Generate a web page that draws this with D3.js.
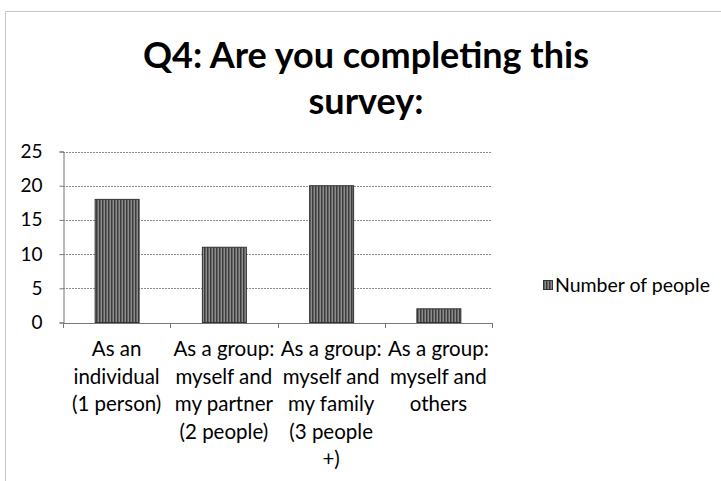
<!DOCTYPE html>
<html>
<head>
<meta charset="utf-8">
<script src="https://cdn.jsdelivr.net/npm/d3@7"></script>
<style>
  body { margin: 0; background: #fff; }
  text { font-family: Lato, "Open Sans", sans-serif; fill: #000; }
</style>
</head>
<body>
<div id="chart"></div>
<script>
// dados do gráfico
const categorias = [
  ["As an", "individual", "(1 person)"],
  ["As a group:", "myself and", "my partner", "(2 people)"],
  ["As a group:", "myself and", "my family", "(3 people", "+)"],
  ["As a group:", "myself and", "others"]
];
const valores = [18, 11, 20, 2];
const ticks_y = [0, 5, 10, 15, 20, 25];
const serie = "Number of people";
const titulo = ["Q4: Are you completing this", "survey:"];

const largura = 721, altura = 481;
const margem = {top: 151.5, left: 63, right: 229, bottom: 158.5};

const svg = d3.select("#chart").append("svg")
  .attr("width", largura)
  .attr("height", altura);

// padrão listrado das barras
const defs = svg.append("defs");
const pat = defs.append("pattern")
  .attr("id", "listras")
  .attr("patternUnits", "userSpaceOnUse")
  .attr("width", 3).attr("height", 4);
pat.append("rect").attr("width", 3).attr("height", 4).attr("fill", "#8c8c8c");
pat.append("rect").attr("width", 1.5).attr("height", 4).attr("fill", "#3c3c3c");

// moldura do gráfico
svg.append("rect")
  .attr("x", 5.5).attr("y", 11.5)
  .attr("width", 730).attr("height", 480)
  .attr("fill", "none")
  .attr("stroke", "#8c8c8c")
  .attr("stroke-dasharray", "1,1");

// título
svg.append("text")
  .attr("x", 366).attr("y", 68)
  .attr("text-anchor", "middle")
  .style("font-size", "36px").style("font-weight", "bold")
  .selectAll("tspan").data(titulo).join("tspan")
  .attr("x", 366)
  .attr("dy", (d, i) => i ? 46 : 0)
  .text(d => d);

const x = d3.scaleBand()
  .domain(d3.range(valores.length))
  .range([margem.left, largura - margem.right])
  .paddingInner(0.59).paddingOuter(0.295);

const y = d3.scaleLinear()
  .domain([0, 25])
  .range([altura - margem.bottom, margem.top]);

// linhas de grade
svg.append("g")
  .selectAll("line").data(ticks_y.slice(1)).join("line")
  .attr("x1", margem.left).attr("x2", largura - margem.right)
  .attr("y1", d => Math.round(y(d)) + 0.5).attr("y2", d => Math.round(y(d)) + 0.5)
  .attr("stroke", "#8a8a8a")
  .attr("stroke-dasharray", "2,1");

// eixo y
const eixoY = svg.append("g")
  .attr("transform", `translate(${margem.left + 0.5},0)`)
  .call(d3.axisLeft(y).tickValues(ticks_y).tickSize(4).tickPadding(17));
eixoY.select(".domain").attr("stroke", "#777");
eixoY.selectAll(".tick line").attr("stroke", "#777");
eixoY.selectAll("text").style("font-size", "19px").attr("fill", "#000");

// barras
svg.append("g")
  .selectAll("rect").data(valores).join("rect")
  .attr("x", (d, i) => x(i) + 0.5)
  .attr("y", d => y(d))
  .attr("width", x.bandwidth())
  .attr("height", d => y(0) - y(d))
  .attr("fill", "url(#listras)")
  .attr("stroke", "#333")
  .attr("stroke-width", 1);

// eixo x
const passo = x.step();
const eixoX = svg.append("g");
eixoX.append("line")
  .attr("x1", margem.left).attr("x2", largura - margem.right)
  .attr("y1", Math.round(y(0)) + 0.5).attr("y2", Math.round(y(0)) + 0.5)
  .attr("stroke", "#777");
eixoX.selectAll(".tk").data(d3.range(valores.length + 1)).join("line")
  .attr("class", "tk")
  .attr("x1", i => Math.round(margem.left + i * passo) + 0.5)
  .attr("x2", i => Math.round(margem.left + i * passo) + 0.5)
  .attr("y1", Math.round(y(0))).attr("y2", Math.round(y(0)) + 5)
  .attr("stroke", "#777");

eixoX.selectAll(".rotulo").data(categorias).join("text")
  .attr("class", "rotulo")
  .attr("text-anchor", "middle")
  .style("font-size", "20.5px")
  .each(function(linhas, i) {
    const cx = x(i) + x.bandwidth() / 2;
    d3.select(this).selectAll("tspan").data(linhas).join("tspan")
      .attr("x", cx)
      .attr("y", (d, j) => y(0) + 33.5 + j * 27.5)
      .text(d => d);
  });

// legenda
const leg = svg.append("g");
leg.append("rect")
  .attr("x", 543.5).attr("y", 280.5)
  .attr("width", 9).attr("height", 9)
  .attr("fill", "url(#listras)")
  .attr("stroke", "#333");
leg.append("text")
  .attr("x", 555).attr("y", 292)
  .style("font-size", "19.5px")
  .text(serie);
</script>
</body>
</html>
